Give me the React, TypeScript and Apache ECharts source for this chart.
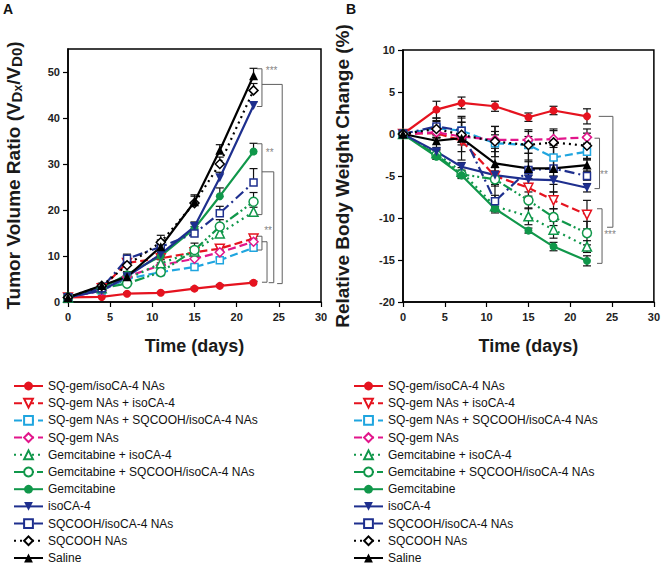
import React, { useEffect, useRef } from "react";
import * as echarts from "echarts";

const days = [0, 4, 7, 11, 15, 18, 22];
const groupNames = [
  "SQ-gem/isoCA-4 NAs",
  "SQ-gem NAs + isoCA-4",
  "SQ-gem NAs + SQCOOH/isoCA-4 NAs",
  "SQ-gem NAs",
  "Gemcitabine + isoCA-4",
  "Gemcitabine + SQCOOH/isoCA-4 NAs",
  "Gemcitabine",
  "isoCA-4",
  "SQCOOH/isoCA-4 NAs",
  "SQCOOH NAs",
  "Saline",
];
const xTicks = [0, 5, 10, 15, 20, 25, 30];
const tumorTicks = [0, 10, 20, 30, 40, 50];
const weightTicks = [-20, -15, -10, -5, 0, 5, 10];

// Panel A: tumor volume ratio
const tumorSqGemIso = [1, 1.1, 1.8, 2, 2.9, 3.5, 4.2];
const tumorSqGemPlusIso = [1, 3, 8.5, 9.5, 10.8, 11.6, 13.8];
const tumorSqGemPlusSqcIso = [1, 2.5, 5, 6.5, 7.6, 9.1, 11.8];
const tumorSqGem = [1, 2.5, 5.5, 8, 9.4, 10.8, 13.1];
const tumorGemPlusIso = [1, 3, 5, 8.4, 11, 14.9, 19.6];
const tumorGemPlusSqcIso = [1, 3, 4, 6.5, 11.3, 16.4, 21.8];
const tumorGem = [1, 3, 6, 10, 16, 23, 32.7];
const tumorIso = [1, 2.5, 5.5, 10.4, 16.4, 27, 42.7];
const tumorSqcIso = [1, 3, 9.4, 12, 14.9, 19.3, 26];
const tumorSqcooh = [1, 3.5, 8, 13, 21.5, 30, 46];
const tumorSaline = [1, 3.6, 5.5, 12, 21.8, 33, 49.2];

const tumorErrSqGemIso = [0.1, 0.2, 0.2, 0.2, 0.3, 0.3, 0.3];
const tumorErrSqGemPlusIso = [0.2, 0.3, 0.5, 0.8, 1, 0.5, 0.5];
const tumorErrSqGemPlusSqcIso = [0.2, 0.3, 0.5, 0.5, 0.5, 0.5, 0.6];
const tumorErrSqGem = [0.2, 0.3, 0.5, 0.5, 0.5, 0.5, 0.6];
const tumorErrGemPlusIso = [0.2, 0.3, 0.5, 0.8, 1, 1, 1];
const tumorErrGemPlusSqcIso = [0.2, 0.3, 0.5, 0.8, 1.5, 1.5, 2];
const tumorErrGem = [0.2, 0.4, 0.6, 0.8, 1, 1.8, 1.8];
const tumorErrIso = [0.2, 0.4, 0.6, 1, 1, 1.2, 0.8];
const tumorErrSqcIso = [0.2, 0.4, 1, 1, 1.5, 1.5, 3];
const tumorErrSqcooh = [0.3, 0.5, 1, 1.5, 1.5, 1.5, 1.5];
const tumorErrSaline = [0.3, 0.5, 0.8, 1.5, 1.5, 1.2, 1.6];

// Panel B: relative body weight change
const weightSqGemIso = [0, 2.9, 3.7, 3.3, 2.0, 2.8, 2.1];
const weightSqGemPlusIso = [0, 0.1, -0.8, -5.0, -6.4, -7.9, -9.6];
const weightSqGemPlusSqcIso = [0, 0.7, 0.4, -1.1, -1.3, -2.8, -2.1];
const weightSqGem = [0, 0.2, -0.3, -0.7, -0.7, -0.6, -0.4];
const weightGemPlusIso = [0, -2.3, -4.5, -8.6, -9.8, -11.4, -13.4];
const weightGemPlusSqcIso = [0, -2.5, -4.8, -5.4, -7.9, -9.9, -11.8];
const weightGem = [0, -2.7, -4.9, -8.9, -11.5, -13.4, -15.1];
const weightIso = [0, -2.1, -3.9, -4.9, -5.4, -5.5, -6.4];
const weightSqcIso = [0, 0.9, 0.4, -8.0, -4.3, -4.1, -5.0];
const weightSqcooh = [0, 0.6, -0.1, -0.9, -1.3, -1.0, -1.4];
const weightSaline = [0, -0.8, -0.5, -3.5, -4.1, -4.1, -3.7];

const weightErrSqGemIso = [0, 1, 0.7, 0.6, 0.5, 0.5, 0.9];
const weightErrSqGemPlusIso = [0, 0.5, 0.5, 1, 1, 1, 1.7];
const weightErrSqGemPlusSqcIso = [0, 0.8, 1, 1, 1, 1.5, 1];
const weightErrSqGem = [0, 0.7, 0.7, 1, 1, 1, 1];
const weightErrGemPlusIso = [0, 0.5, 0.5, 0.8, 1, 1, 0.7];
const weightErrGemPlusSqcIso = [0, 0.5, 0.5, 0.8, 1, 1, 1.4];
const weightErrGem = [0, 0.3, 0.3, 0.3, 0.3, 0.5, 0.6];
const weightErrIso = [0, 0.5, 0.5, 0.5, 0.5, 0.5, 0.5];
const weightErrSqcIso = [0, 1, 1, 0.7, 1, 1, 0.5];
const weightErrSqcooh = [0, 1, 2, 1.8, 1.8, 1.6, 1.5];
const weightErrSaline = [0, 1, 2.6, 4.4, 1.8, 2.8, 0.7];

// Significance brackets: [x of vertical, y top, y bottom, x of top tick start, x of bottom tick start]
const bracketsA = [
  [23.0, 50.7, 42.5, 22.4, 22.4],
  [25.4, 47.3, 4.0, 23.0, 24.8],
  [23.0, 34.4, 19.0, 22.4, 22.4],
  [24.4, 28.3, 4.2, 23.0, 23.8],
  [23.0, 14.3, 11.3, 22.4, 22.4],
  [23.6, 13.1, 4.3, 23.0, 23.0],
];
const bracketsB = [
  [23.5, -0.5, -6.5, 22.9, 22.9],
  [23.8, -8.9, -15.4, 23.2, 23.2],
  [25.1, 2.1, -11.1, 23.4, 24.4],
];
const starLabelsA = ["***", "**", "**"];
const starPosA = [
  [23.4, 50.3],
  [23.4, 32.4],
  [23.2, 15.6],
];
const starLabelsB = ["**", "***"];
const starPosB = [
  [23.5, -4.8],
  [24.0, -12.0],
];

const RED = "#E5131F";
const CYAN = "#1FA5DF";
const MAGENTA = "#E2168B";
const GREEN = "#10974A";
const BLUE = "#1E2F8E";
const BLACK = "#000000";
const GRAY = "#5f5f5f";

const styles: any[] = [
  { color: RED, dash: "solid", symbol: "circle", filled: true },
  { color: RED, dash: [8, 4], symbol: "triangle", rotate: 180, filled: false },
  { color: CYAN, dash: [8, 4], symbol: "rect", filled: false },
  { color: MAGENTA, dash: [8, 4], symbol: "diamond", filled: false },
  { color: GREEN, dash: [2, 4], symbol: "triangle", filled: false },
  { color: GREEN, dash: [10, 3, 2, 3, 2, 3], symbol: "circle", filled: false },
  { color: GREEN, dash: "solid", symbol: "circle", filled: true },
  { color: BLUE, dash: "solid", symbol: "triangle", rotate: 180, filled: true },
  { color: BLUE, dash: [10, 4, 2, 4], symbol: "rect", filled: false },
  { color: BLACK, dash: [2, 4], symbol: "diamond", filled: false },
  { color: BLACK, dash: "solid", symbol: "triangle", filled: true },
];

const tumorValues = [
  tumorSqGemIso, tumorSqGemPlusIso, tumorSqGemPlusSqcIso, tumorSqGem, tumorGemPlusIso,
  tumorGemPlusSqcIso, tumorGem, tumorIso, tumorSqcIso, tumorSqcooh, tumorSaline,
];
const tumorErrors = [
  tumorErrSqGemIso, tumorErrSqGemPlusIso, tumorErrSqGemPlusSqcIso, tumorErrSqGem, tumorErrGemPlusIso,
  tumorErrGemPlusSqcIso, tumorErrGem, tumorErrIso, tumorErrSqcIso, tumorErrSqcooh, tumorErrSaline,
];
const weightValues = [
  weightSqGemIso, weightSqGemPlusIso, weightSqGemPlusSqcIso, weightSqGem, weightGemPlusIso,
  weightGemPlusSqcIso, weightGem, weightIso, weightSqcIso, weightSqcooh, weightSaline,
];
const weightErrors = [
  weightErrSqGemIso, weightErrSqGemPlusIso, weightErrSqGemPlusSqcIso, weightErrSqGem, weightErrGemPlusIso,
  weightErrGemPlusSqcIso, weightErrGem, weightErrIso, weightErrSqcIso, weightErrSqcooh, weightErrSaline,
];

const FONT = "Arial, 'Liberation Sans', sans-serif";

function lineSeries(i: number, values: number[], ax: number) {
  const s = styles[i];
  return {
    type: "line",
    name: groupNames[i],
    xAxisIndex: ax,
    yAxisIndex: ax,
    data: days.map((d, k) => [d, values[k]]),
    symbol: s.symbol,
    symbolSize: s.symbol === "circle" && s.filled ? 8 : s.symbol === "rect" ? 7 : 9,
    symbolRotate: s.rotate || 0,
    showAllSymbol: true,
    lineStyle: { color: s.color, width: 2.2, type: s.dash },
    itemStyle: {
      color: s.filled ? s.color : "#ffffff",
      borderColor: s.color,
      borderWidth: s.filled ? 0 : 1.5,
    },
    emphasis: { disabled: true },
    z: 3,
  };
}

function errorSeries(i: number, values: number[], errs: number[], ax: number, both: boolean) {
  return {
    type: "custom",
    name: "err-" + ax + "-" + i,
    xAxisIndex: ax,
    yAxisIndex: ax,
    data: days.map((d, k) => [d, values[k], errs[k]]),
    encode: { x: 0, y: 1 },
    itemStyle: { color: "#111" },
    z: 2,
    silent: true,
    renderItem: (params: any, api: any) => {
      const x = api.value(0);
      const y = api.value(1);
      const e = api.value(2);
      if (!e) return null;
      const top = api.coord([x, y + e]);
      const bot = api.coord([x, both ? y - e : y]);
      const cap = 4;
      const st = { stroke: "#111", lineWidth: 1.2 };
      const children: any[] = [
        { type: "line", shape: { x1: top[0], y1: top[1], x2: top[0], y2: bot[1] }, style: st },
        { type: "line", shape: { x1: top[0] - cap, y1: top[1], x2: top[0] + cap, y2: top[1] }, style: st },
      ];
      if (both) {
        children.push({ type: "line", shape: { x1: bot[0] - cap, y1: bot[1], x2: bot[0] + cap, y2: bot[1] }, style: st });
      }
      return { type: "group", children };
    },
  };
}

function bracketSeries(rows: number[][], ax: number) {
  return {
    type: "custom",
    name: "brackets-" + ax,
    xAxisIndex: ax,
    yAxisIndex: ax,
    data: rows,
    encode: { x: 0, y: 1 },
    itemStyle: { color: GRAY },
    z: 4,
    silent: true,
    renderItem: (params: any, api: any) => {
      const xv = api.value(0);
      const y1 = api.value(1);
      const y2 = api.value(2);
      const xt = api.value(3);
      const xb = api.value(4);
      const a = api.coord([xv, y1]);
      const b = api.coord([xv, y2]);
      const lt = api.coord([xt, y1]);
      const lb = api.coord([xb, y2]);
      return {
        type: "polyline",
        shape: { points: [[lt[0], a[1]], [a[0], a[1]], [b[0], b[1]], [lb[0], b[1]]] },
        style: { stroke: GRAY, lineWidth: 1, fill: "none" },
      };
    },
  };
}

function starSeries(pos: number[][], labels: string[], ax: number) {
  return {
    type: "scatter",
    name: "stars-" + ax,
    xAxisIndex: ax,
    yAxisIndex: ax,
    data: pos,
    symbol: "circle",
    symbolSize: 1,
    itemStyle: { color: "rgba(0,0,0,0)" },
    z: 5,
    silent: true,
    label: {
      show: true,
      position: "right",
      distance: 0,
      color: GRAY,
      fontSize: 10,
      fontFamily: FONT,
      formatter: (p: any) => labels[p.dataIndex],
    },
    emphasis: { disabled: true },
  };
}

function xAxis(gridIndex: number) {
  return {
    type: "value",
    gridIndex,
    min: 0,
    max: 30,
    interval: 5,
    name: "Time (days)",
    nameLocation: "middle",
    nameGap: 35,
    nameTextStyle: { fontSize: 18, fontWeight: "bold", fontFamily: FONT, color: "#1a1a1a" },
    axisLine: { show: true, onZero: false, lineStyle: { color: "#000", width: 1.5 } },
    axisTick: { show: true, length: 5, lineStyle: { color: "#000", width: 1.2 }, customValues: xTicks },
    axisLabel: { fontSize: 11, fontWeight: "bold", fontFamily: FONT, color: "#222", margin: 9, customValues: xTicks },
    splitLine: { show: false },
  };
}

const App: React.FC = () => {
  const ref = useRef<HTMLDivElement>(null);
  useEffect(() => {
    if (!ref.current) return;
    const chart = echarts.init(ref.current, undefined, { renderer: "svg" });
    const series: any[] = [];
    for (let i = 0; i < groupNames.length; i++) {
      series.push(errorSeries(i, tumorValues[i], tumorErrors[i], 0, false));
      series.push(errorSeries(i, weightValues[i], weightErrors[i], 1, true));
    }
    for (let i = 0; i < groupNames.length; i++) {
      series.push(lineSeries(i, tumorValues[i], 0));
    }
    for (let i = 0; i < groupNames.length; i++) {
      series.push(lineSeries(i, weightValues[i], 1));
    }
    series.push(bracketSeries(bracketsA, 0));
    series.push(bracketSeries(bracketsB, 1));
    series.push(starSeries(starPosA, starLabelsA, 0));
    series.push(starSeries(starPosB, starLabelsB, 1));

    const legendBase = {
      data: groupNames,
      orient: "vertical",
      top: 375,
      height: 260,
      itemWidth: 29,
      itemHeight: 11,
      itemGap: 5.2,
      selectedMode: false,
      textStyle: { fontSize: 12, fontFamily: FONT, color: "#111" },
    };

    const subStyle = { fontSize: 15, fontWeight: "bold", fontFamily: FONT, color: "#1a1a1a", verticalAlign: "bottom", padding: [6, 0, 0, 0] };
    const subsubStyle = { fontSize: 12, fontWeight: "bold", fontFamily: FONT, color: "#1a1a1a", verticalAlign: "bottom", padding: [9, 0, 0, 0] };

    chart.setOption({
      animation: false,
      backgroundColor: "#ffffff",
      graphic: [
        { type: "text", left: 3, top: 2, style: { text: "A", fontSize: 14, fontWeight: "bold", fontFamily: FONT, fill: "#111" } },
        { type: "text", left: 346, top: 2, style: { text: "B", fontSize: 14, fontWeight: "bold", fontFamily: FONT, fill: "#111" } },
      ],
      legend: [
        { ...legendBase, left: 8 },
        { ...legendBase, left: 348 },
      ],
      grid: [
        { left: 68, top: 49, width: 253, height: 253, show: true, borderColor: "#000", borderWidth: 1.5, backgroundColor: "transparent" },
        { left: 403, top: 50, width: 252, height: 252, show: true, borderColor: "#000", borderWidth: 1.5, backgroundColor: "transparent" },
      ],
      xAxis: [xAxis(0), xAxis(1)],
      yAxis: [
        {
          type: "value",
          gridIndex: 0,
          min: 0,
          max: 55,
          interval: 10,
          name: "Tumor Volume Ratio (V{sub|D}{subsub|x}/V{sub|D0})",
          nameLocation: "middle",
          nameGap: 44,
          nameTextStyle: {
            fontSize: 19,
            fontWeight: "bold",
            fontFamily: FONT,
            color: "#1a1a1a",
            rich: { sub: subStyle, subsub: subsubStyle },
          },
          axisLine: { show: true, onZero: false, lineStyle: { color: "#000", width: 1.5 } },
          axisTick: { show: true, length: 5, lineStyle: { color: "#000", width: 1.2 }, customValues: tumorTicks },
          axisLabel: { fontSize: 11, fontWeight: "bold", fontFamily: FONT, color: "#222", margin: 8, customValues: tumorTicks },
          splitLine: { show: false },
        },
        {
          type: "value",
          gridIndex: 1,
          min: -20,
          max: 10,
          interval: 5,
          name: "Relative Body Weight Change (%)",
          nameLocation: "middle",
          nameGap: 51,
          nameTextStyle: { fontSize: 19, fontWeight: "bold", fontFamily: FONT, color: "#1a1a1a" },
          axisLine: { show: true, onZero: false, lineStyle: { color: "#000", width: 1.5 } },
          axisTick: { show: true, length: 5, lineStyle: { color: "#000", width: 1.2 }, customValues: weightTicks },
          axisLabel: { fontSize: 11, fontWeight: "bold", fontFamily: FONT, color: "#222", margin: 8, customValues: weightTicks },
          splitLine: { show: false },
        },
      ],
      series,
    });
    return () => chart.dispose();
  }, []);
  return <div ref={ref} style={{ position: "absolute", left: 0, top: 0, width: 663, height: 567 }} />;
};

export default App;
